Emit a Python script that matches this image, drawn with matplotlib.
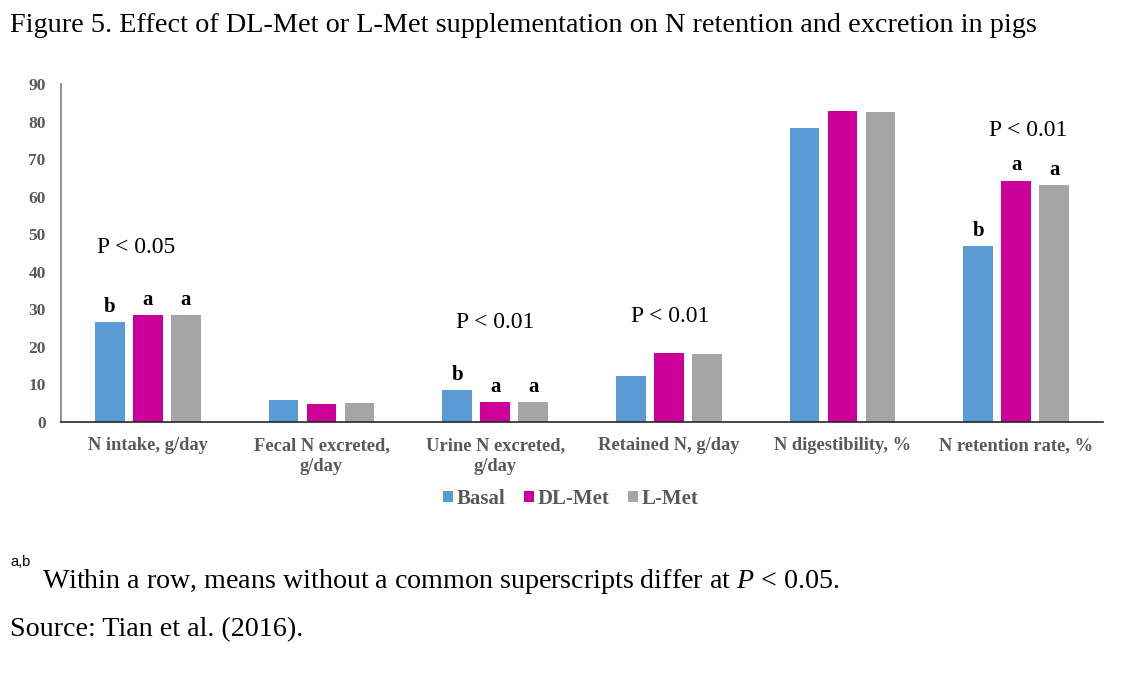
import matplotlib
matplotlib.use("Agg")
import matplotlib.pyplot as plt
import numpy as np

plt.rcParams['font.family'] = ['Liberation Serif', 'DejaVu Serif']
plt.rcParams['mathtext.fontset'] = 'custom'
plt.rcParams['mathtext.rm'] = 'Liberation Serif'
plt.rcParams['mathtext.it'] = 'Liberation Serif:italic'

categories = ["N intake, g/day", "Fecal N excreted,\ng/day", "Urine N excreted,\ng/day",
              "Retained N, g/day", "N digestibility, %", "N retention rate, %"]
series_names = ["Basal", "DL-Met", "L-Met"]
basal = [26.6, 5.9, 8.5, 12.2, 78.3, 46.9]
dl_met = [28.5, 4.8, 5.3, 18.4, 82.9, 64.3]
l_met = [28.5, 5.1, 5.3, 18.1, 82.6, 63.0]
colors = ["#5B9BD5", "#CC0099", "#A5A5A5"]
yticks = [0, 10, 20, 30, 40, 50, 60, 70, 80, 90]

# significance letters per category (None = no letters)
letters = [["b", "a", "a"], None, ["b", "a", "a"], None, None, ["b", "a", "a"]]
pvals = ["P < 0.05", None, "P < 0.01", "P < 0.01", None, "P < 0.01"]
pval_y = [46.5, None, 26.6, 28.2, None, 77.7]
pval_dx = [-0.07, None, 0.0, 0.01, None, 0.07]

fig = plt.figure(figsize=(11.27, 6.77), dpi=100)
ax = fig.add_axes([61/1127, 1-422/677, (1103-61)/1127, (422-84)/677])

x = np.arange(len(categories))
w = 0.172
off = 0.219
data = [basal, dl_met, l_met]
for i, (vals, c, name) in enumerate(zip(data, colors, series_names)):
    ax.bar(x + (i-1)*off, vals, width=w, color=c, label=name, zorder=2)

for ci, lab in enumerate(letters):
    if lab is None:
        continue
    for si, l in enumerate(lab):
        v = data[si][ci]
        ax.text(x[ci] + (si-1)*off, v + 1.4, l, ha='center', va='bottom',
                fontsize=15, fontweight='bold', color='black')

for ci, p in enumerate(pvals):
    if p is None:
        continue
    ax.text(x[ci] + pval_dx[ci], pval_y[ci], p, ha='center', va='center',
            fontsize=17, color='black')

ax.set_xlim(-0.5, 5.5)
ax.set_ylim(0, 90)
ax.set_yticks(yticks)
ax.set_xticks(x)
ax.set_xticklabels(categories, fontsize=13.3, fontweight='bold', color='#595959',
                   linespacing=1.25)
for t in ax.get_yticklabels():
    t.set_fontweight('bold')
    t.set_fontsize(12.5)
    t.set_color('#595959')
ax.tick_params(axis='both', length=0)
ax.tick_params(axis='y', pad=11)
ax.tick_params(axis='x', pad=11)
for s in ['top', 'right']:
    ax.spines[s].set_visible(False)
ax.spines['left'].set_color('#7F7F7F')
ax.spines['left'].set_linewidth(1.2)
ax.spines['bottom'].set_color('#262626')
ax.spines['bottom'].set_linewidth(1.2)

leg = fig.legend(loc='center', bbox_to_anchor=(571/1127, 1-499/677), ncol=3,
                 frameon=False, handlelength=0.45, handleheight=0.45,
                 handletextpad=0.2, columnspacing=0.9,
                 prop={'weight': 'bold', 'size': 15})
for t in leg.get_texts():
    t.set_color('#595959')

fig.text(10/1127, 1-25/677, "Figure 5. Effect of DL-Met or L-Met supplementation on N retention and excretion in pigs",
         ha='left', va='center', fontsize=20.3, color='black')
fig.text(10/1127, 1-562/677, "a,b", ha='left', va='center', fontsize=10.5,
         family=['Liberation Sans', 'DejaVu Sans'], color='black')
fig.text(42/1127, 1-581/677, r"Within a row, means without a common superscripts differ at $\mathit{P}$ < 0.05.",
         ha='left', va='center', fontsize=20.2, color='black')
fig.text(10/1127, 1-630/677, "Source: Tian et al. (2016).",
         ha='left', va='center', fontsize=20.2, color='black')

fig.savefig("out.png", dpi=100)
